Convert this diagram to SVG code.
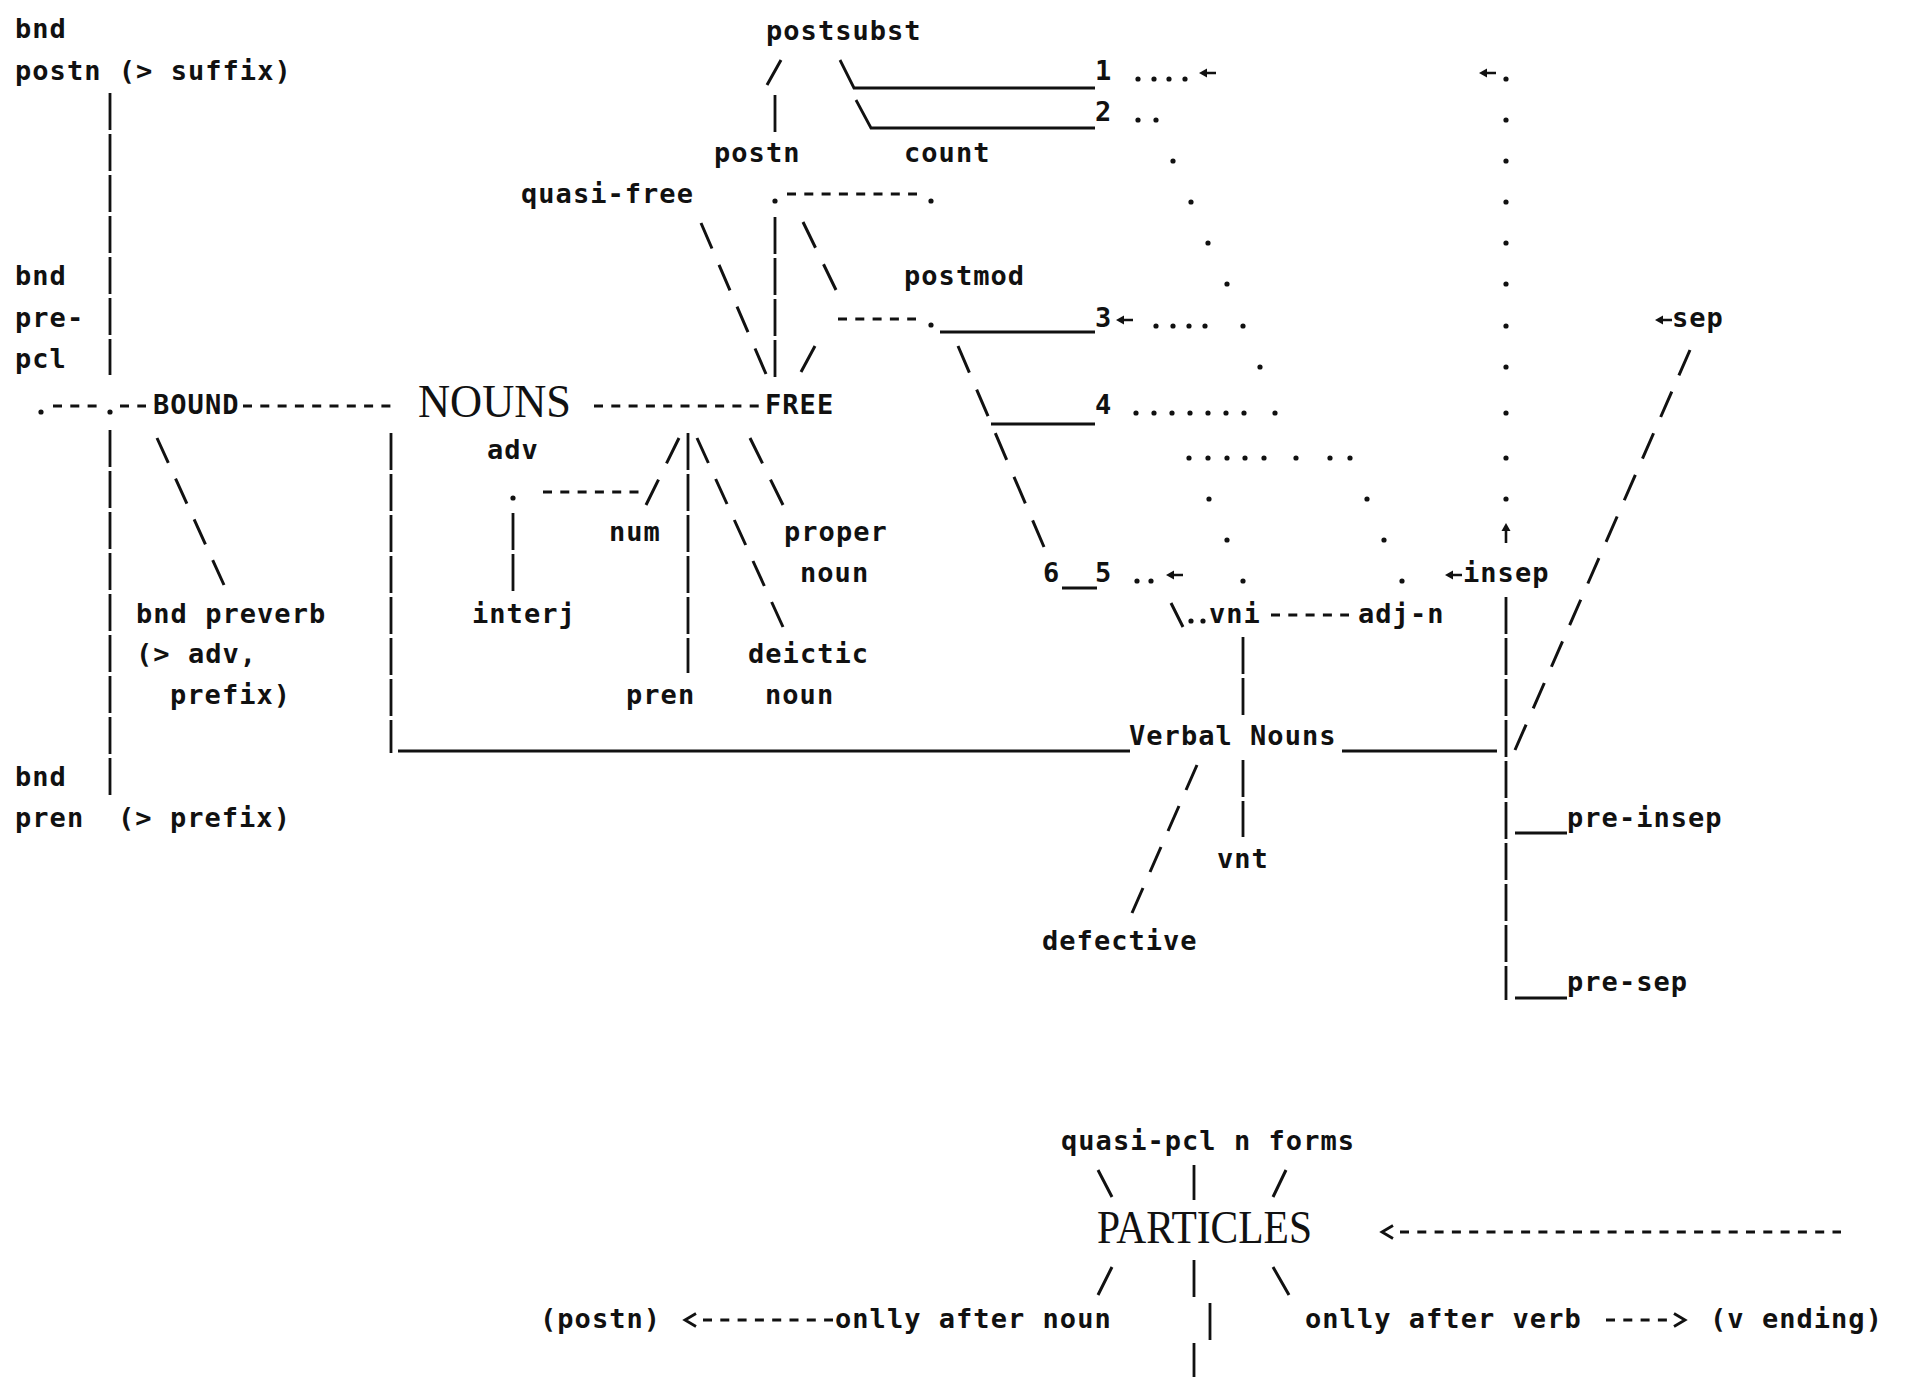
<svg xmlns="http://www.w3.org/2000/svg" xmlns:xlink="http://www.w3.org/1999/xlink" width="1905" height="1377" viewBox="0 0 1905 1377">
<style>
.t{font-family:"DejaVu Sans Mono","Liberation Mono",monospace;font-weight:bold;font-size:27px;letter-spacing:1.04px;fill:#111}
.big{font-family:"Liberation Serif","DejaVu Serif",serif;font-size:47px;fill:#111}
.ln{stroke:#111;stroke-width:2.8;fill:none}
.bar{stroke-dasharray:37 4}
.sl{stroke-dasharray:25 16;stroke-width:3}
.hy{stroke-dasharray:9 8.3}
.dot{stroke:#111;stroke-width:5.2;stroke-linecap:round;fill:none}
.ah{fill:#111}
</style>
<defs>
<marker id="chev" markerUnits="userSpaceOnUse" orient="auto-start-reverse" refX="0" refY="0" markerWidth="40" markerHeight="40" viewBox="-20 -20 40 40" overflow="visible">
<path d="M7,-6.5 L18,0 L7,6.5" stroke="#111" stroke-width="2.8" fill="none"/>
</marker>
<path id="arL" class="ah" d="M0 0 L8 -4.5 L8 4.5 Z M7 -1.3 H17 V1.3 H7 Z"/>
<path id="arU" class="ah" d="M0 0 L-4.5 8 L4.5 8 Z M-1.3 7 V20 H1.3 V7 Z"/>
</defs>
<rect x="0" y="0" width="1905" height="1377" fill="#fff"/>

<g id="connectors">
<path class="ln bar" d="M110 93V375M110 430V795M391 433V753M775 95V133M775 217V378M688 433V673M513 513V593M1243 637V715M1243 760V837M1506 597V1000M1194 1165V1200M1194 1260V1300M1210 1303V1340M1194 1343V1377"/>
<path class="ln" d="M840 60L854 88H1095M856 100L871 128H1095M940 332H1095M991 424H1095M1062 588H1097M398 751H1130M1342 751H1497M1515 833H1567M1515 998H1567"/>
<path class="ln" style="stroke-width:3" d="M781 60L767 85M815 346L801 372M1171 603L1183 627M1098 1170L1112 1197M1286 1170L1273 1197M1112 1267L1098 1295M1273 1267L1289 1295"/>
<path class="ln sl" pathLength="148" d="M157 438L224 585"/>
<path class="ln sl" pathLength="148" d="M701 223L766 374"/>
<path class="ln sl" pathLength="66" d="M803 222L836 290"/>
<path class="ln sl" pathLength="189" d="M958 346L1044 547"/>
<path class="ln sl" pathLength="66" d="M679 438L646 505"/>
<path class="ln sl" pathLength="189" d="M697 438L783 627"/>
<path class="ln sl" pathLength="66" d="M750 438L783 505"/>
<path class="ln sl" pathLength="148" d="M1197 765L1132 913"/>
<path class="ln sl" pathLength="394" d="M1690 350L1515 750"/>
<path class="ln hy" d="M53 406H97M120 406H146M243 406H391M594 406H759M787 194H917M838 319H916M543 492H639M1271 615H1349"/>
<path class="ln hy" marker-start="url(#chev)" d="M703 1320H833"/>
<path class="ln hy" marker-end="url(#chev)" d="M1606 1320H1667"/>
<path class="ln hy" marker-start="url(#chev)" d="M1400 1232H1841"/>
<path class="dot" d="M41 412h0M110 412h0M775 201h0M931 201h0M931 325h0M513 498h0
M1138 79h0M1154 79h0M1169 79h0M1185 79h0M1506 79h0
M1138 120h0M1156 120h0M1506 120h0
M1173 161h0M1506 161h0
M1191 202h0M1506 202h0
M1208 243h0M1506 243h0
M1227 284h0M1506 284h0
M1156 326h0M1173 326h0M1189 326h0M1205 326h0M1243 326h0M1506 326h0
M1260 367h0M1506 367h0
M1136 413h0M1154 413h0M1172 413h0M1190 413h0M1208 413h0M1226 413h0M1244 413h0M1275 413h0M1506 413h0
M1189 458h0M1208 458h0M1227 458h0M1245 458h0M1264 458h0M1296 458h0M1330 458h0M1350 458h0M1506 458h0
M1209 499h0M1367 499h0M1506 499h0
M1227 540h0M1384 540h0
M1137 581h0M1151 581h0M1243 581h0M1402 581h0
M1191 621h0M1203 621h0"/>
<use href="#arL" x="1199" y="73"/>
<use href="#arL" x="1479" y="73"/>
<use href="#arL" x="1116" y="320"/>
<use href="#arL" x="1655" y="320"/>
<use href="#arL" x="1166" y="575"/>
<use href="#arL" x="1445" y="575"/>
<use href="#arU" x="1506" y="523"/>
</g>

<g id="n-bnd-postn"><text class="t" x="15" y="38">bnd</text><text class="t" x="15" y="80">postn (&gt; suffix)</text></g>
<g id="n-bnd-prepcl"><text class="t" x="15" y="285">bnd</text><text class="t" x="15" y="327">pre-</text><text class="t" x="15" y="368">pcl</text></g>
<g id="n-bound"><text class="t" x="153" y="414">BOUND</text></g>
<g id="n-nouns"><text class="big" x="418" y="417" textLength="153" lengthAdjust="spacingAndGlyphs">NOUNS</text></g>
<g id="n-free"><text class="t" x="765" y="414">FREE</text></g>
<g id="n-bnd-preverb"><text class="t" x="136" y="623">bnd preverb</text><text class="t" x="136" y="663">(&gt; adv,</text><text class="t" x="170" y="704">prefix)</text></g>
<g id="n-bnd-pren"><text class="t" x="15" y="786">bnd</text><text class="t" x="15" y="827">pren</text><text class="t" x="118" y="827">(&gt; prefix)</text></g>
<g id="n-adv"><text class="t" x="487" y="459">adv</text></g>
<g id="n-interj"><text class="t" x="472" y="623">interj</text></g>
<g id="n-num"><text class="t" x="609" y="541">num</text></g>
<g id="n-pren"><text class="t" x="626" y="704">pren</text></g>
<g id="n-proper-noun"><text class="t" x="784" y="541">proper</text><text class="t" x="800" y="582">noun</text></g>
<g id="n-deictic-noun"><text class="t" x="748" y="663">deictic</text><text class="t" x="765" y="704">noun</text></g>
<g id="n-postsubst"><text class="t" x="766" y="40">postsubst</text></g>
<g id="n-postn"><text class="t" x="714" y="162">postn</text></g>
<g id="n-count"><text class="t" x="904" y="162">count</text></g>
<g id="n-quasi-free"><text class="t" x="521" y="203">quasi-free</text></g>
<g id="n-postmod"><text class="t" x="904" y="285">postmod</text></g>
<g id="n-1"><text class="t" x="1095" y="80">1</text></g>
<g id="n-2"><text class="t" x="1095" y="121">2</text></g>
<g id="n-3"><text class="t" x="1095" y="327">3</text></g>
<g id="n-4"><text class="t" x="1095" y="414">4</text></g>
<g id="n-5"><text class="t" x="1095" y="582">5</text></g>
<g id="n-6"><text class="t" x="1043" y="582">6</text></g>
<g id="n-verbal-nouns"><text class="t" x="1129" y="745">Verbal Nouns</text></g>
<g id="n-vni"><text class="t" x="1209" y="623">vni</text></g>
<g id="n-adj-n"><text class="t" x="1358" y="623">adj-n</text></g>
<g id="n-vnt"><text class="t" x="1217" y="868">vnt</text></g>
<g id="n-defective"><text class="t" x="1042" y="950">defective</text></g>
<g id="n-insep"><text class="t" x="1463" y="582">insep</text></g>
<g id="n-sep"><text class="t" x="1672" y="327">sep</text></g>
<g id="n-pre-insep"><text class="t" x="1567" y="827">pre-insep</text></g>
<g id="n-pre-sep"><text class="t" x="1567" y="991">pre-sep</text></g>
<g id="n-quasi-pcl"><text class="t" x="1061" y="1150">quasi-pcl n forms</text></g>
<g id="n-particles"><text class="big" x="1097" y="1243" textLength="215" lengthAdjust="spacingAndGlyphs">PARTICLES</text></g>
<g id="n-postn-paren"><text class="t" x="540" y="1328">(postn)</text></g>
<g id="n-only-noun"><text class="t" x="835" y="1328">onlly after noun</text></g>
<g id="n-only-verb"><text class="t" x="1305" y="1328">onlly after verb</text></g>
<g id="n-v-ending"><text class="t" x="1710" y="1328">(v ending)</text></g>
</svg>
